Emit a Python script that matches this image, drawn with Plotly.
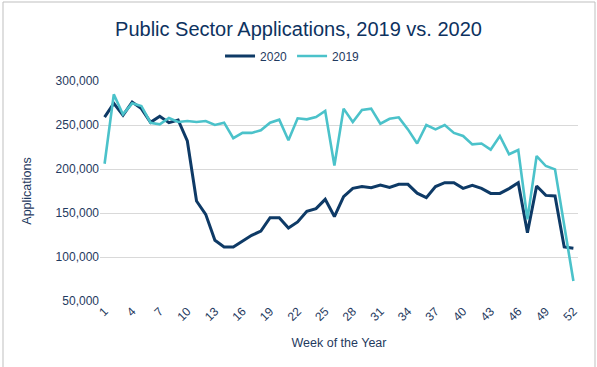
import plotly.graph_objects as go

weeks = list(range(1, 53))
apps_2020 = [259000, 274600, 261000, 276000, 268600, 253000, 260000, 252600, 255700, 231800,
             163600, 148500, 119000, 111400, 111400, 118000, 124600, 129500, 144700, 144700,
             133000, 139800, 152000, 155000, 165500, 146000, 168600, 178000, 180000, 178800,
             181800, 179000, 182600, 182600, 172500, 167400, 180000, 184500, 184500, 178000,
             181400, 178000, 172300, 172300, 177700, 184500, 127700, 180700, 170000, 169300,
             111400, 110000]
apps_2019 = [206000, 284800, 262000, 274600, 271600, 252600, 250800, 258000, 253500, 254500,
             253400, 254500, 250000, 252600, 235000, 241000, 241000, 244000, 252600, 256000,
             232600, 257600, 256400, 259000, 266000, 204000, 268600, 253400, 267000, 268600,
             251500, 257000, 258700, 245000, 229000, 250000, 245000, 250000, 241000, 237500,
             228000, 229000, 222000, 237500, 216700, 221600, 142800, 214700, 203400, 199600,
             136000, 72700]
tick_weeks = list(range(1, 53, 3))
tick_labels = [str(w) for w in tick_weeks]

DARK = "#0E3A66"
TEAL = "#4BC2CA"
TXT = "#1F3A60"

fig = go.Figure()
fig.add_trace(go.Scatter(x=weeks, y=apps_2020, name="2020", mode="lines",
                         line=dict(color=DARK, width=3)))
fig.add_trace(go.Scatter(x=weeks, y=apps_2019, name="2019", mode="lines",
                         line=dict(color=TEAL, width=2.6)))

L, R, T, B = 100, 19, 81, 66
W, H = 597, 367
pw, ph = W - L - R, H - T - B

fig.update_layout(
    width=W, height=H,
    margin=dict(l=L, r=R, t=T, b=B, autoexpand=False),
    paper_bgcolor="white", plot_bgcolor="white",
    font=dict(family="Liberation Sans, Arial, sans-serif", color=TXT, size=12),
    title=dict(text="Public Sector Applications, 2019 vs. 2020",
               x=0.5, xref="container", xanchor="center",
               y=1 - 29 / H, yref="container", yanchor="middle",
               font=dict(size=20, color="#0D3260")),
    legend=dict(orientation="h", x=0.49, xref="container", xanchor="center",
                y=1 - 56 / H, yref="container", yanchor="middle",
                font=dict(size=12, color=TXT), itemwidth=30,
                bgcolor="rgba(0,0,0,0)"),
    showlegend=True,
)
fig.update_xaxes(
    range=[0.5, 52.5], tickmode="array", tickvals=tick_weeks, ticktext=tick_labels,
    tickangle=-45, showgrid=False, zeroline=False, showline=False, automargin=False,
    tickfont=dict(size=12, color=TXT),
    title=dict(text="Week of the Year", font=dict(size=12.5, color=TXT), standoff=15),
)
fig.update_yaxes(
    range=[50000, 300000], dtick=50000, tickformat=",", showgrid=True,
    gridcolor="#D9D9D9", gridwidth=1, zeroline=False, showline=False, automargin=False,
    tickfont=dict(size=12, color=TXT),
    title=dict(text="Applications", font=dict(size=12.5, color=TXT), standoff=21),
)
# chart border like the source workbook frame
fig.add_shape(type="rect", xref="paper", yref="paper",
              x0=(3 - L) / pw, x1=(595 - L) / pw,
              y0=-(B + 20) / ph, y1=(ph + T - 2) / ph,
              line=dict(color="#BFBFBF", width=1), fillcolor="rgba(0,0,0,0)", layer="above")

fig.write_html("out.html", config={"displayModeBar": False},
               post_script="document.body.style.margin='0';document.body.style.padding='0';")
